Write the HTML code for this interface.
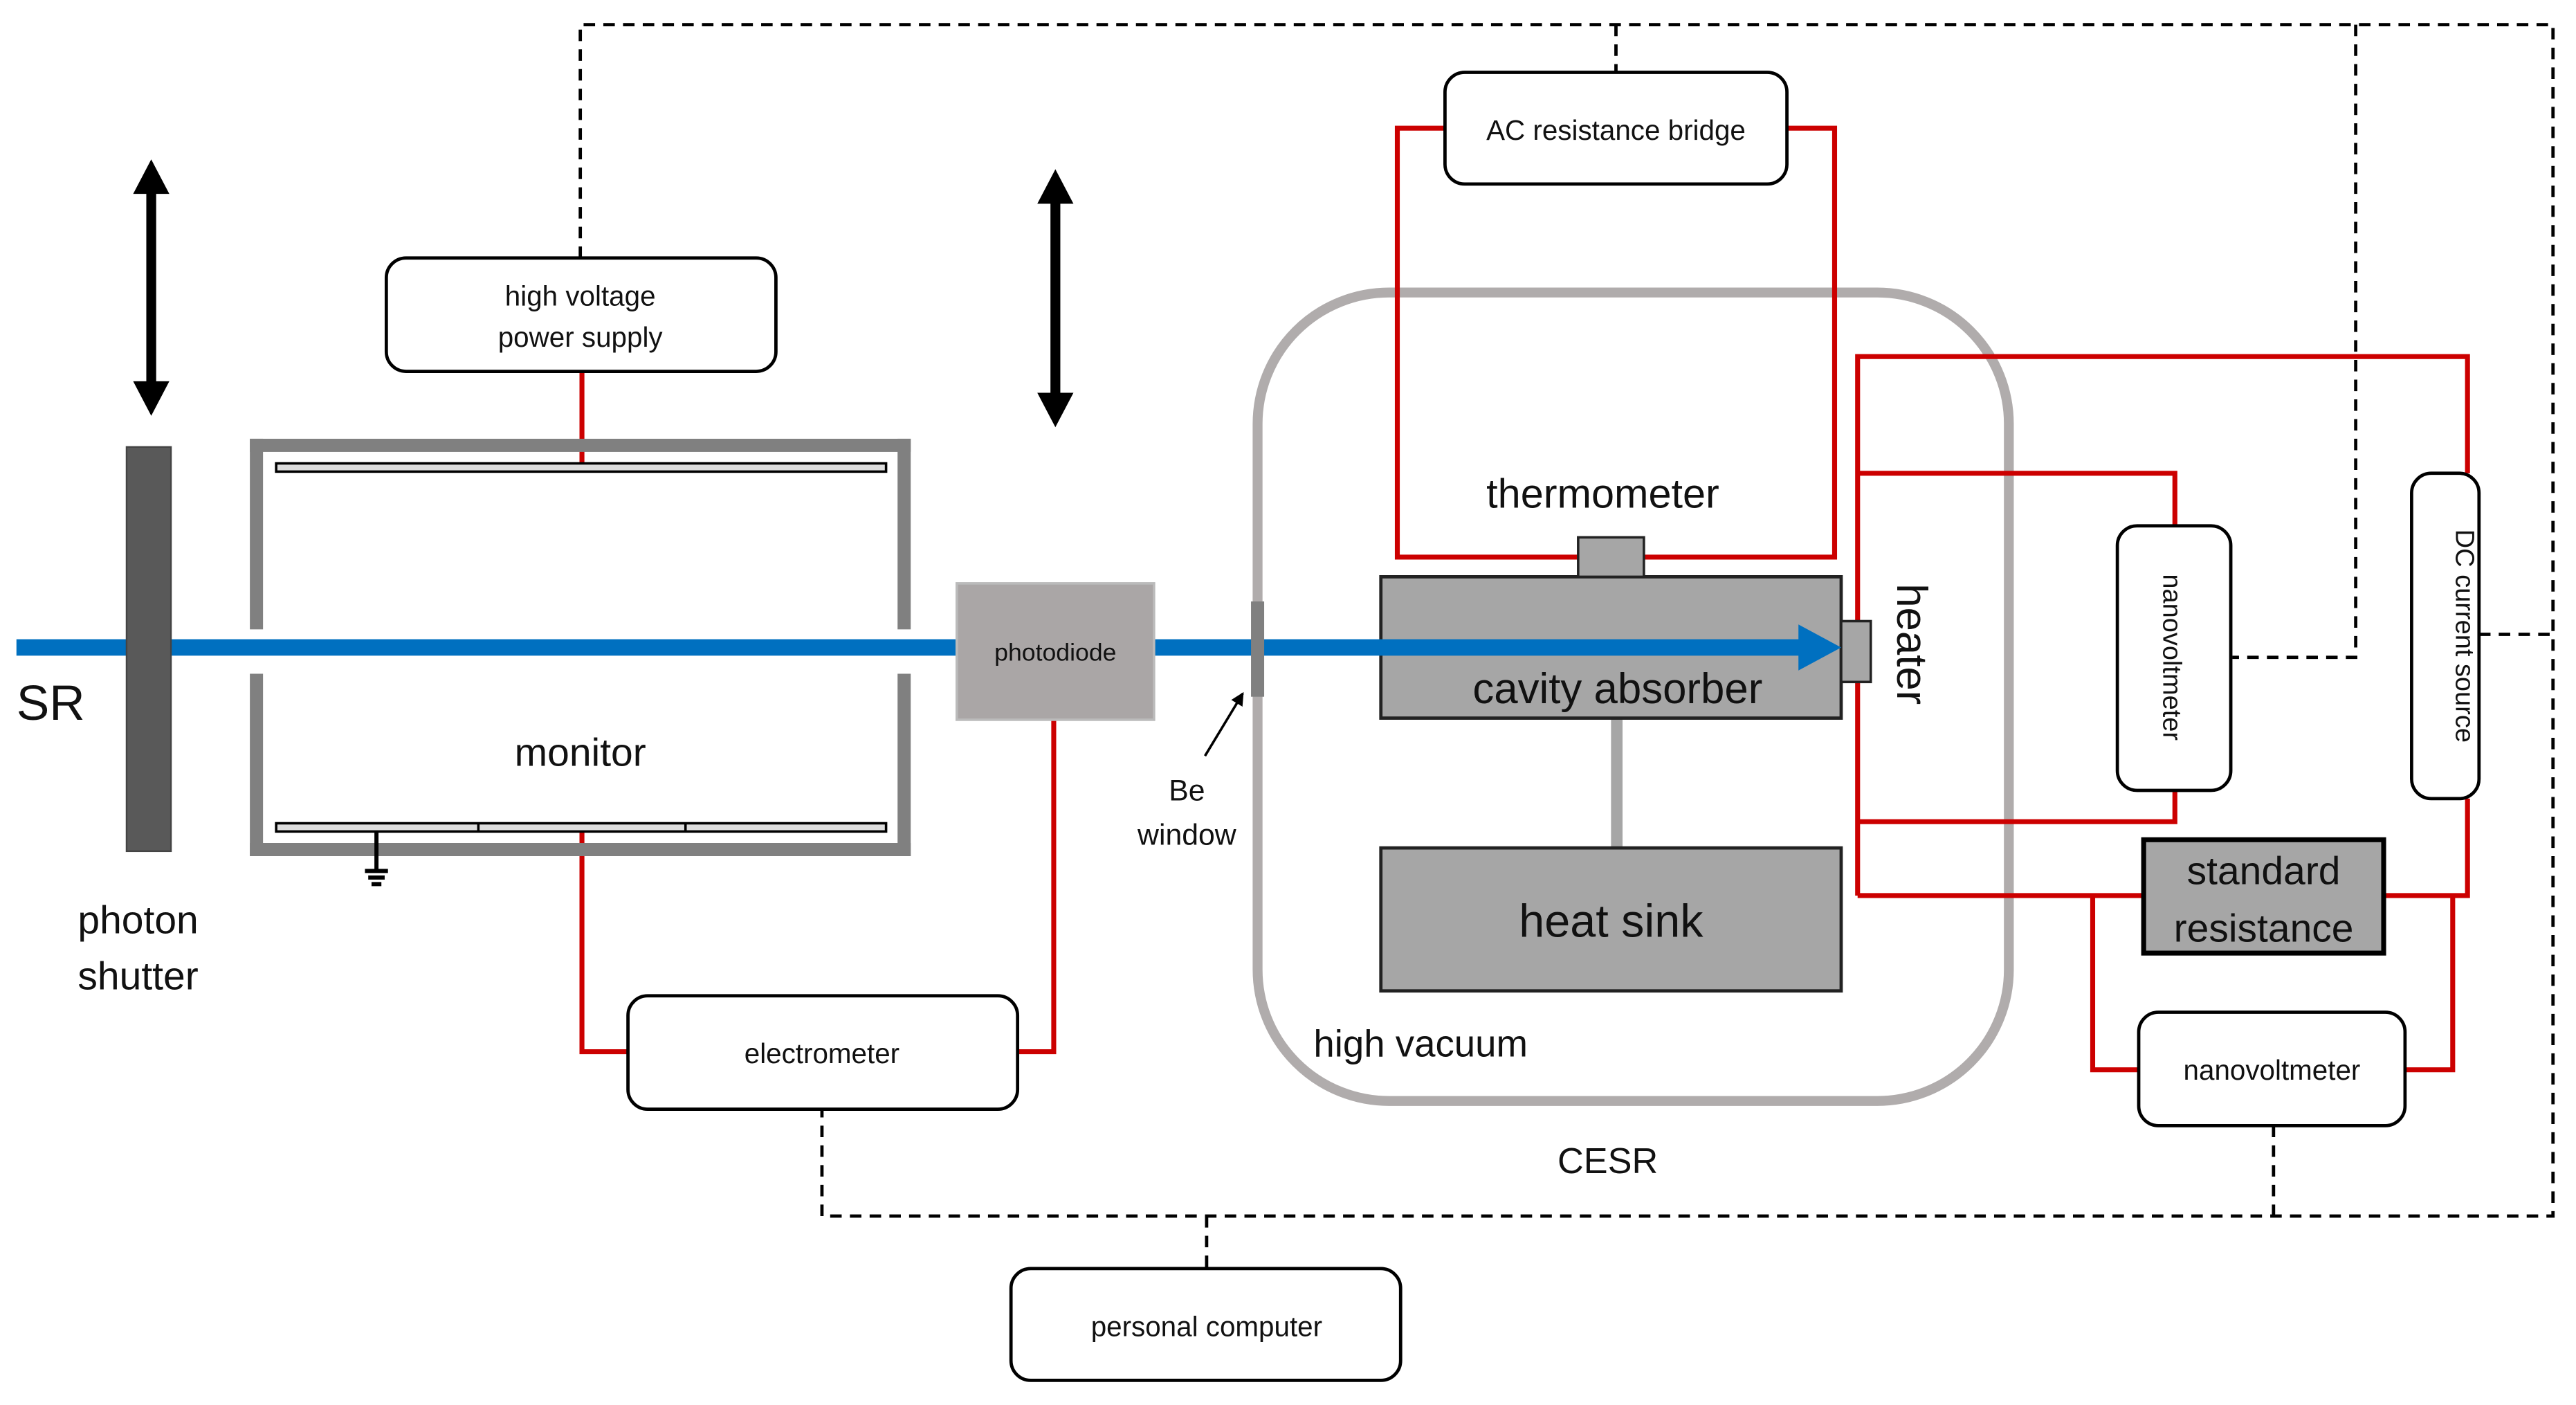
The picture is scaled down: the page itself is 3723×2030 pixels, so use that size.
<!DOCTYPE html>
<html><head><meta charset="utf-8"><style>
html,body{margin:0;padding:0;background:#fff;}
svg{display:block;}
text{font-family:"Liberation Sans",sans-serif;fill:#111;}
</style></head><body>
<svg width="3723" height="2030" viewBox="0 0 1567 855" preserveAspectRatio="none" xmlns="http://www.w3.org/2000/svg">
<defs>
<marker id="ah" markerWidth="8" markerHeight="8" refX="7" refY="4" orient="auto" markerUnits="userSpaceOnUse"><path d="M0,0 L8,4 L0,8 z" fill="#000"/></marker>
</defs>
<g fill="none" stroke="#000" stroke-width="2" stroke-dasharray="7,5">
<path d="M353,157 V15 H1553 V740 H500 V675"/>
<path d="M983,15 V44"/>
<path d="M1433,15 V400 H1358"/>
<path d="M1508,386 H1553"/>
<path d="M1383,685 V740"/>
<path d="M734,740 V772"/>
</g>
<g fill="#000">
<rect x="89" y="115" width="6" height="120"/>
<polygon points="92,97 81,118 103,118"/><polygon points="92,253 81,232 103,232"/>
<rect x="639" y="121" width="6" height="121"/>
<polygon points="642,103 631,124 653,124"/><polygon points="642,260 631,239 653,239"/>
</g>
<rect x="765" y="178" width="457" height="492" rx="80" ry="80" fill="none" stroke="#b0acac" stroke-width="6"/>
<g fill="none" stroke="#cc0000" stroke-width="3">
<path d="M354,226 V283"/>
<path d="M354,506 V640 H382"/>
<path d="M641,438 V640 H619"/>
<path d="M879,78 H850 V339 H1116 V78 H1087"/>
<path d="M1138,396 H1130"/>
<path d="M1130,545 V217 H1501 V288"/>
<path d="M1130,288 H1323 V320"/>
<path d="M1323,481 V500 H1130"/>
<path d="M1130,545 H1304"/>
<path d="M1450,545 H1501 V486"/>
<path d="M1273,545 V651 H1301"/>
<path d="M1492,545 V651 H1463"/>
</g>
<g fill="#808080">
<rect x="152" y="267" width="402" height="8"/>
<rect x="152" y="513" width="402" height="8"/>
<rect x="152" y="267" width="8" height="116"/>
<rect x="152" y="410" width="8" height="111"/>
<rect x="546" y="267" width="8" height="116"/>
<rect x="546" y="410" width="8" height="111"/>
</g>
<rect x="168" y="282" width="371" height="5" fill="#ddd" stroke="#000" stroke-width="1.5"/>
<rect x="168" y="501" width="371" height="5" fill="#ddd" stroke="#000" stroke-width="1.5"/>
<path d="M291,501 V506 M417,501 V506" stroke="#000" stroke-width="1.5"/>
<path d="M229,506 V530 M222,530 H236 M224,534 H234 M226,538 H232" stroke="#000" stroke-width="2.5"/>
<rect x="980" y="437" width="7" height="79" fill="#a6a6a6"/>
<rect x="840" y="351" width="280" height="86" fill="#a6a6a6" stroke="#222" stroke-width="2"/>
<rect x="960" y="327" width="40" height="24" fill="#a6a6a6" stroke="#222" stroke-width="1.5"/>
<rect x="840" y="516" width="280" height="87" fill="#a6a6a6" stroke="#222" stroke-width="2"/>
<rect x="1120" y="378" width="18" height="37" fill="#a6a6a6" stroke="#222" stroke-width="1.5"/>
<rect x="10" y="389" width="1086" height="10" fill="#0070c0"/>
<polygon points="1094,380 1120,394 1094,408" fill="#0070c0"/>
<rect x="77" y="272" width="27" height="246" fill="#595959" stroke="#444" stroke-width="1"/>
<rect x="582" y="355" width="120" height="83" fill="#aaa6a6" stroke="#bbb" stroke-width="1.5"/>
<rect x="761" y="366" width="8" height="58" fill="#808080"/>
<line x1="733" y1="460" x2="756" y2="422" stroke="#000" stroke-width="1.5" marker-end="url(#ah)"/>
<g fill="#fff" stroke="#000" stroke-width="2">
<rect x="235" y="157" width="237" height="69" rx="12"/>
<rect x="879" y="44" width="208" height="68" rx="12"/>
<rect x="382" y="606" width="237" height="69" rx="12"/>
<rect x="615" y="772" width="237" height="68" rx="12"/>
<rect x="1301" y="616" width="162" height="69" rx="12"/>
<rect x="1288" y="320" width="69" height="161" rx="12"/>
<rect x="1467" y="288" width="41" height="198" rx="12"/>
</g>
<rect x="1304" y="511" width="146" height="69" fill="#a6a6a6" stroke="#000" stroke-width="3"/>
<g text-anchor="middle">
<text x="353" y="186" font-size="17">high voltage</text>
<text x="353" y="211" font-size="17">power supply</text>
<text x="983" y="85" font-size="17">AC resistance bridge</text>
<text x="500" y="647" font-size="17">electrometer</text>
<text x="734" y="813" font-size="17">personal computer</text>
<text x="1382" y="657" font-size="17">nanovoltmeter</text>
<text x="642" y="402" font-size="15">photodiode</text>
<text x="353" y="466" font-size="24">monitor</text>
<text x="84" y="568" font-size="24">photon</text>
<text x="84" y="602" font-size="24">shutter</text>
<text x="722" y="487" font-size="18">Be</text>
<text x="722" y="514" font-size="18">window</text>
<text x="975" y="309" font-size="25">thermometer</text>
<text x="984" y="428" font-size="26">cavity absorber</text>
<text x="980" y="570" font-size="28">heat sink</text>
<text x="1377" y="538" font-size="24">standard</text>
<text x="1377" y="573" font-size="24">resistance</text>
<text x="978" y="714" font-size="22">CESR</text>
<text transform="translate(1154,392) rotate(90)" font-size="26">heater</text>
<text transform="translate(1316,400) rotate(90)" font-size="16">nanovoltmeter</text>
<text transform="translate(1494,387) rotate(90)" font-size="16">DC current source</text>
</g>
<text x="10" y="438" font-size="30">SR</text>
<text x="799" y="643" font-size="23">high vacuum</text>
</svg>
</body></html>
